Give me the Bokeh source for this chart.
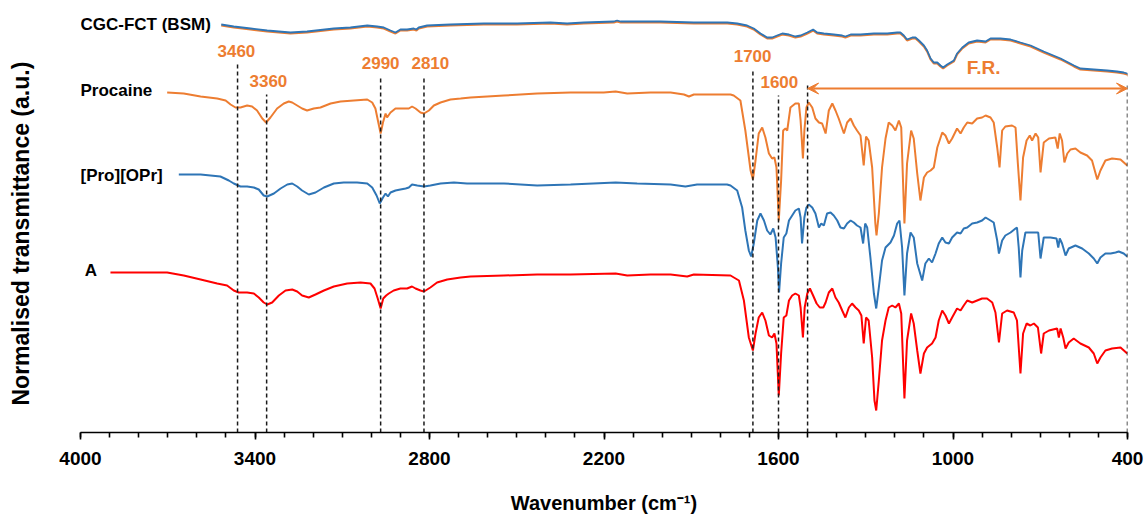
import math
from bokeh.plotting import figure
from bokeh.models import Range1d, FixedTicker, ColumnDataSource, Label, LabelSet, Arrow, VeeHead, Title
from bokeh.core.properties import value
from bokeh.embed import file_html
from bokeh.resources import INLINE

# ---------------- data (wavenumber in cm-1, normalised transmittance in a.u.) ----------------
cgc_wn = [3516, 3473, 3415, 3358, 3278, 3221, 3129, 3072, 3014, 2980,
          2957, 2934, 2917, 2900, 2877, 2854, 2845, 2837, 2808, 2728,
          2613, 2499, 2384, 2327, 2269, 2166, 2155, 2143, 2040, 2006,
          1891, 1776, 1742, 1708, 1685, 1662, 1639, 1622, 1605, 1587,
          1564, 1542, 1524, 1501, 1481, 1467, 1444, 1410, 1381, 1370,
          1352, 1318, 1272, 1226, 1192, 1181, 1169, 1158, 1140, 1129,
          1117, 1100, 1089, 1077, 1066, 1054, 1043, 1034, 1020, 997,
          986, 968, 946, 917, 888, 871, 837, 802, 768, 733,
          688, 630, 584, 562, 516, 470, 436, 413, 401, 395]
cgc_T = [408, 406, 404, 402, 400, 401, 404, 405, 407, 406,
         405, 402, 400, 403, 403, 404, 403, 405, 407, 408,
         409, 409, 410, 409, 410, 411, 412, 411, 411, 411,
         410, 410, 409, 407, 404, 399, 395, 395, 397, 399,
         398, 396, 397, 400, 403, 400, 399, 398, 397, 396,
         398, 398, 399, 399, 400, 400, 397, 393, 395, 395,
         392, 387, 382, 374, 370, 370, 367, 365, 368, 372,
         379, 385, 390, 392, 391, 394, 394, 393, 390, 387,
         381, 374, 367, 364, 363, 362, 361, 360, 359, 357]

procaine_wn = [3702, 3645, 3587, 3530, 3501, 3484, 3467, 3450, 3427, 3410,
               3393, 3375, 3362, 3347, 3324, 3301, 3284, 3272, 3255, 3238,
               3221, 3198, 3175, 3140, 3106, 3060, 3014, 2997, 2986, 2976,
               2968, 2960, 2951, 2946, 2934, 2917, 2900, 2882, 2871, 2860,
               2848, 2831, 2819, 2802, 2785, 2762, 2728, 2693, 2659, 2544,
               2430, 2315, 2201, 2160, 2120, 2040, 1971, 1925, 1908, 1891,
               1834, 1765, 1754, 1731, 1714, 1696, 1688, 1679, 1668, 1656,
               1645, 1633, 1622, 1614, 1607, 1599, 1591, 1584, 1576, 1570,
               1559, 1542, 1530, 1524, 1516, 1511, 1504, 1496, 1484, 1473,
               1461, 1450, 1438, 1427, 1415, 1404, 1393, 1381, 1375, 1364,
               1352, 1341, 1330, 1318, 1307, 1299, 1290, 1278, 1267, 1263,
               1255, 1244, 1232, 1221, 1209, 1198, 1186, 1178, 1167, 1158,
               1144, 1135, 1123, 1112, 1100, 1089, 1077, 1066, 1054, 1037,
               1026, 1014, 1003, 986, 974, 963, 951, 934, 917, 900,
               888, 871, 860, 848, 840, 831, 820, 797, 785, 777,
               768, 759, 747, 736, 728, 716, 707, 699, 688, 670,
               648, 640, 633, 625, 617, 607, 596, 579, 562, 539,
               522, 504, 493, 476, 453, 424, 401]
procaine_T = [340, 339, 336, 334, 332, 328, 325, 325, 327, 326,
              322, 314, 310, 315, 324, 329, 331, 330, 327, 324,
              322, 324, 325, 329, 331, 332, 333, 330, 324, 310,
              299, 310, 319, 315, 320, 324, 324, 324, 324, 326,
              324, 320, 319, 322, 327, 330, 333, 334, 335, 337,
              339, 340, 340, 341, 339, 340, 340, 338, 336, 338,
              338, 338, 337, 332, 302, 262, 253, 272, 299, 305,
              295, 279, 274, 275, 265, 212, 252, 302, 304, 302,
              325, 329, 329, 312, 274, 302, 325, 330, 325, 314,
              310, 309, 299, 322, 329, 322, 314, 304, 299, 310,
              314, 307, 302, 297, 267, 296, 292, 265, 209, 197,
              219, 265, 294, 310, 307, 302, 312, 305, 209, 269,
              302, 294, 259, 232, 255, 260, 262, 265, 285, 300,
              297, 289, 294, 304, 299, 305, 310, 309, 314, 315,
              317, 315, 310, 285, 265, 302, 306, 307, 305, 269,
              232, 275, 292, 297, 292, 299, 295, 260, 290, 294,
              295, 284, 299, 292, 270, 279, 283, 284, 280, 277,
              272, 253, 262, 272, 274, 273, 267]

proopr_wn = [3662, 3587, 3519, 3490, 3473, 3450, 3427, 3404, 3387, 3370,
             3358, 3335, 3312, 3289, 3272, 3255, 3238, 3215, 3192, 3163,
             3129, 3095, 3049, 3014, 2997, 2982, 2971, 2960, 2951, 2943,
             2934, 2917, 2900, 2882, 2871, 2860, 2842, 2819, 2797, 2762,
             2716, 2671, 2544, 2430, 2315, 2160, 2086, 1971, 1920, 1880,
             1777, 1765, 1742, 1725, 1714, 1702, 1694, 1685, 1673, 1662,
             1650, 1639, 1628, 1618, 1610, 1602, 1598, 1591, 1582, 1573,
             1564, 1553, 1542, 1530, 1524, 1519, 1511, 1504, 1496, 1484,
             1473, 1461, 1453, 1444, 1433, 1421, 1410, 1398, 1387, 1375,
             1364, 1352, 1341, 1330, 1318, 1309, 1302, 1295, 1284, 1272,
             1264, 1255, 1244, 1232, 1215, 1203, 1192, 1184, 1175, 1167,
             1158, 1146, 1135, 1123, 1106, 1095, 1083, 1072, 1060, 1049,
             1037, 1026, 1014, 1003, 986, 974, 963, 951, 934, 917,
             900, 888, 871, 860, 848, 842, 831, 820, 802, 785,
             780, 774, 768, 762, 751, 728, 707, 699, 688, 665,
             644, 638, 633, 625, 613, 602, 579, 556, 533, 516,
             504, 493, 476, 458, 441, 430, 413, 401]
proopr_T = [258, 258, 256, 252, 249, 246, 246, 245, 243, 237,
            236, 239, 244, 248, 249, 246, 242, 238, 240, 245,
            249, 250, 250, 249, 245, 237, 229, 235, 239, 236,
            240, 242, 243, 244, 245, 248, 247, 246, 247, 249,
            250, 249, 249, 247, 248, 250, 249, 248, 246, 248,
            248, 247, 242, 225, 202, 182, 176, 189, 212, 219,
            212, 202, 198, 204, 195, 165, 140, 169, 195, 199,
            212, 217, 222, 224, 215, 189, 215, 225, 228, 225,
            219, 205, 209, 207, 219, 220, 217, 212, 205, 204,
            209, 212, 210, 207, 205, 189, 209, 205, 175, 139,
            124, 145, 172, 185, 190, 197, 209, 212, 185, 137,
            179, 200, 195, 169, 152, 169, 174, 170, 179, 189,
            195, 190, 189, 195, 200, 199, 204, 205, 209, 210,
            212, 215, 212, 210, 192, 179, 192, 197, 200, 204,
            205, 185, 155, 182, 200, 200, 200, 174, 195, 195,
            194, 185, 194, 189, 177, 184, 187, 184, 179, 174,
            169, 175, 179, 179, 180, 181, 179, 176]

a_wn = [3897, 3817, 3702, 3645, 3587, 3530, 3496, 3473, 3456, 3427,
        3404, 3387, 3370, 3358, 3341, 3318, 3295, 3272, 3255, 3238,
        3215, 3192, 3163, 3129, 3083, 3037, 3003, 2989, 2978, 2968,
        2959, 2949, 2940, 2923, 2900, 2877, 2860, 2848, 2831, 2819,
        2797, 2774, 2739, 2693, 2659, 2544, 2430, 2315, 2160, 2120,
        2040, 1971, 1914, 1891, 1765, 1736, 1719, 1702, 1688, 1679,
        1668, 1656, 1645, 1633, 1622, 1614, 1607, 1599, 1591, 1582,
        1573, 1564, 1553, 1542, 1530, 1524, 1516, 1510, 1501, 1492,
        1481, 1469, 1458, 1446, 1438, 1427, 1415, 1404, 1393, 1381,
        1370, 1358, 1347, 1335, 1324, 1315, 1307, 1299, 1290, 1278,
        1270, 1264, 1255, 1244, 1232, 1221, 1209, 1198, 1186, 1178,
        1167, 1158, 1144, 1135, 1123, 1112, 1100, 1089, 1072, 1060,
        1049, 1037, 1026, 1014, 1003, 986, 974, 963, 951, 934,
        917, 900, 883, 865, 854, 842, 831, 814, 791, 780,
        768, 759, 747, 734, 722, 708, 697, 688, 670, 642,
        636, 630, 621, 613, 602, 585, 562, 533, 516, 504,
        493, 476, 453, 424, 401]
a_T = [160, 160, 160, 157, 153, 149, 147, 142, 140, 140,
       139, 135, 130, 128, 130, 137, 142, 143, 141, 137,
       135, 138, 142, 146, 149, 150, 149, 144, 134, 124,
       134, 137, 139, 142, 144, 144, 146, 144, 142, 141,
       145, 150, 153, 155, 156, 157, 158, 158, 159, 157,
       158, 158, 156, 158, 157, 152, 132, 95, 82, 99,
       115, 120, 112, 97, 95, 99, 89, 37, 79, 115,
       117, 132, 137, 139, 137, 125, 95, 125, 139, 144,
       137, 129, 125, 125, 130, 140, 144, 135, 130, 122,
       115, 125, 129, 125, 122, 117, 89, 115, 112, 75,
       32, 22, 52, 92, 112, 125, 127, 125, 129, 119,
       34, 92, 119, 109, 82, 59, 79, 85, 89, 95,
       112, 122, 117, 109, 115, 124, 122, 127, 132, 130,
       132, 134, 134, 130, 120, 90, 119, 122, 120, 112,
       59, 99, 109, 107, 109, 105, 79, 99, 102, 104,
       95, 104, 95, 84, 90, 94, 89, 85, 79, 69,
       75, 82, 84, 85, 79]

# series names
name_text = ["CGC-FCT (BSM)", "Procaine", "[Pro][OPr]", "A"]
name_wn = [4000, 4000, 4000, 3985]
name_T = [408, 342, 257, 162]

# peak marker lines and their labels
peak_line_wn = [3460, 3360, 2968, 2819, 1688, 1600, 1500, 400]
peak_line_top = [369, 338, 355, 355, 362, 337, 347, 347]
peak_label_text = ["3460", "3360", "2990", "2810", "1700", "1600"]
peak_label_wn = [3464, 3354, 2968, 2797, 1689, 1597]
peak_label_T = [382, 352, 370, 370, 377, 351]

# fingerprint region
fr_text = "F.R."
fr_range = [1500, 400]
fr_T = 344
fr_label_wn = 895
fr_label_T = 365

major_ticks = [4000, 3400, 2800, 2200, 1600, 1000, 400]
minor_ticks = list(range(400, 4001, 100))

ORANGE = "#ED7D31"
BLUE = "#2E75B6"
RED = "#FF0000"
FONT = "Liberation Sans"

p = figure(width=1146, height=521, x_range=Range1d(4000, 400), y_range=Range1d(0, 424),
           output_backend="svg", toolbar_location=None, title=None,
           min_border_left=80, min_border_right=19, min_border_top=8, min_border_bottom=89)
p.background_fill_color = "white"
p.border_fill_color = "white"
p.outline_line_color = None
p.xgrid.visible = False
p.ygrid.visible = False

ax = p.xaxis[0]
ax.ticker = FixedTicker(ticks=major_ticks, minor_ticks=minor_ticks)
ax.axis_line_color = "black"
ax.axis_line_width = 1.6
ax.major_tick_line_color = "black"
ax.major_tick_line_width = 1.6
ax.major_tick_in = 0
ax.major_tick_out = 7
ax.minor_tick_line_color = "black"
ax.minor_tick_line_width = 1.6
ax.minor_tick_in = 0
ax.minor_tick_out = 5
ax.major_label_text_font = FONT
ax.major_label_text_font_style = "bold"
ax.major_label_text_font_size = "19px"
ax.major_label_text_color = "black"
ax.major_label_standoff = 12
ax.axis_label = "Wavenumber (cm\u207b\u00b9)"
ax.axis_label_text_font = FONT
ax.axis_label_text_font_style = "bold"
ax.axis_label_text_font_size = "20px"
ax.axis_label_text_color = "black"
ax.axis_label_standoff = 24

# y axis: no ticks, a blank label makes it a spacer between the frame and the title
ay = p.yaxis[0]
ay.ticker = FixedTicker(ticks=[])
ay.axis_line_color = None
ay.major_tick_line_color = None
ay.minor_tick_line_color = None
ay.major_tick_in = 0
ay.major_tick_out = 0
ay.minor_tick_in = 0
ay.minor_tick_out = 0
ay.major_label_standoff = 0
ay.axis_label = " "
ay.axis_label_text_font_size = "10px"
ay.axis_label_standoff = 28

p.add_layout(Title(text="Normalised transmittance (a.u.)", align="left", offset=27,
                   text_font=FONT, text_font_style="bold", text_font_size="23px",
                   text_color="black"), "left")

# spectra
p.line(cgc_wn, [v - 0.9 for v in cgc_T], line_color=ORANGE, line_width=2.2)
p.line(cgc_wn, cgc_T, line_color=BLUE, line_width=1.8)
p.line(procaine_wn, procaine_T, line_color=ORANGE, line_width=2)
p.line(proopr_wn, proopr_T, line_color=BLUE, line_width=2)
p.line(a_wn, a_T, line_color=RED, line_width=2)

# dashed peak markers
seg_src = ColumnDataSource(dict(x=peak_line_wn, top=peak_line_top, bottom=[0] * len(peak_line_wn)))
p.segment(x0="x", y0="bottom", x1="x", y1="top", source=seg_src,
          line_color="#1a1a1a", line_width=1.5, line_dash="4 3")

# F.R. arrow
head = dict(size=11, fill_color=ORANGE, line_color=ORANGE, line_width=1)
p.add_layout(Arrow(start=VeeHead(**head), end=VeeHead(**head),
                   x_start=fr_range[0], y_start=fr_T, x_end=fr_range[1], y_end=fr_T,
                   line_color=ORANGE, line_width=2))
p.add_layout(Label(x=fr_label_wn, y=fr_label_T, text=fr_text, text_align="center",
                   text_baseline="middle", text_font=FONT, text_font_style="bold",
                   text_font_size="19px", text_color=ORANGE))

# peak labels
pk_src = ColumnDataSource(dict(x=peak_label_wn, y=peak_label_T, t=peak_label_text))
p.add_layout(LabelSet(x="x", y="y", text="t", source=pk_src, text_align="center",
                      text_baseline="middle", text_font=value(FONT), text_font_style="bold",
                      text_font_size="17px", text_color=ORANGE))

# series names
nm_src = ColumnDataSource(dict(x=name_wn, y=name_T, t=name_text))
p.add_layout(LabelSet(x="x", y="y", text="t", source=nm_src, text_align="left",
                      text_baseline="middle", text_font=value(FONT), text_font_style="bold",
                      text_font_size="17px", text_color="black"))

open("out.html", "w").write(file_html(p, INLINE))
